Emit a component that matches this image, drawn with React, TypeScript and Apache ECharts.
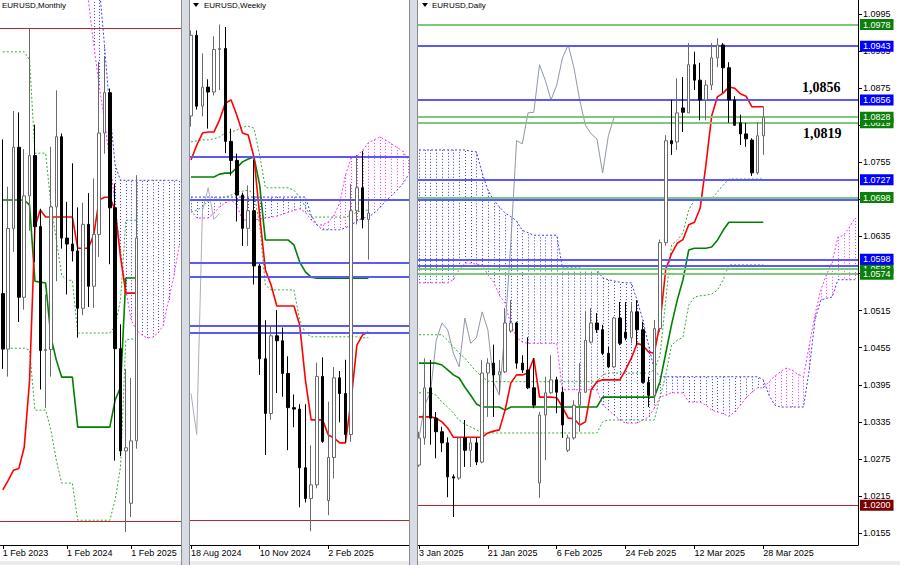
import React, { useEffect, useRef } from "react";
import * as echarts from "echarts";

const FONT = '"Liberation Sans", Arial, sans-serif';
const BULL_BORDER = "#6a6a6a";
const RED = "#ff0000";
const KIJUN = "#008000";
const DOT_GREEN = "#33aa33";
const SPAN_A = "#ff33ff";
const SPAN_B = "#3a3aff";
const CHIKOU = "#8e98a8";
const LEVEL_BLUE = "#5a5af5";
const LEVEL_GREEN = "#7cc87c";
const LEVEL_RED = "#b02a2a";

// ---------------- Monthly (index 0 = Feb 2023) ----------------
const monthlyCount = 34;
const monthlyTickIndex = [0, 12, 24];
const monthlyTickLabels = ["1 Feb 2023", "1 Feb 2024", "1 Feb 2025"];
// [open, close, low, high]
const monthlyOHLC = [
  [1.0697, 1.0576, 1.0533, 1.1033], [1.0576, 1.0839, 1.0516, 1.093], [1.0839, 1.1016, 1.0788, 1.1095],
  [1.1016, 1.0689, 1.0635, 1.1092], [1.0689, 1.091, 1.0662, 1.1012], [1.091, 1.0998, 1.0834, 1.1276],
  [1.0998, 1.0843, 1.0766, 1.1065], [1.0843, 1.0573, 1.0488, 1.0882], [1.0573, 1.0575, 1.0448, 1.0695],
  [1.0575, 1.0886, 1.0516, 1.1017], [1.0886, 1.1039, 1.0724, 1.114], [1.1039, 1.0818, 1.0795, 1.1046],
  [1.0818, 1.0805, 1.0695, 1.0897], [1.0805, 1.079, 1.0767, 1.0981], [1.079, 1.0665, 1.0601, 1.0885],
  [1.0665, 1.0848, 1.065, 1.0895], [1.0848, 1.0713, 1.0668, 1.0916], [1.0713, 1.0826, 1.0666, 1.0948],
  [1.0826, 1.1047, 1.0777, 1.1202], [1.1047, 1.1135, 1.1002, 1.1214], [1.1135, 1.0884, 1.0761, 1.1144],
  [1.0884, 1.0577, 1.0333, 1.0937], [1.0577, 1.0354, 1.0343, 1.063], [1.0354, 1.0361, 1.0177, 1.0533],
  [1.024, 1.0376, 1.021, 1.0513], [1.0376, 1.0818, 1.0359, 1.0955],
];
const monthlyTenkan = [1.0269, 1.029, 1.0312, 1.0316, 1.0362, 1.0508, 1.0842, 1.0879, 1.0864, 1.0864, 1.0864, 1.0864, 1.0864, 1.0864, 1.0796, 1.0796, 1.0796, 1.0825, 1.0901, 1.0907, 1.0907, 1.0879, 1.0777, 1.0698, 1.0698, 1.0698];
const monthlyKijun = [1.0901, 1.0901, 1.0901, 1.0901, 1.0901, 1.089, 1.0724, 1.0722, 1.072, 1.0602, 1.0552, 1.0515, 1.0515, 1.0515, 1.0406, 1.0406, 1.0406, 1.0406, 1.0406, 1.0406, 1.0406, 1.0465, 1.0493, 1.0731, 1.0731, 1.0731];
const monthlyDot1 = [1.1224, 1.1224, 1.1224, 1.1224, 1.1224, 1.1206, 1.1003, 1.1003, 1.1003, 1.089, 1.0814, 1.0737, 1.0726, 1.0726, 1.0611, 1.0611, 1.0611, 1.0611, 1.0611, 1.0611, 1.0611, 1.0626, 1.0683, 1.0857, 1.0857, 1.0857];
const monthlyDot2 = [1.0578, 1.0578, 1.0578, 1.0578, 1.0578, 1.0574, 1.0443, 1.0443, 1.0443, 1.0399, 1.0334, 1.0284, 1.0284, 1.0284, 1.0203, 1.0203, 1.0203, 1.0203, 1.0203, 1.0203, 1.0203, 1.0247, 1.0319, 1.0596, 1.0598, 1.0598];
const monthlySpanA = [null, null, null, null, null, null, null, null, null, null, null, null, null, null, 1.15, 1.1424, 1.1337, 1.1239, 1.1152, 1.1075, 1.0988, 1.089, 1.0792, 1.0705, 1.0639, 1.0617, 1.0607, 1.06, 1.0602, 1.0611, 1.0628, 1.0683, 1.0737, 1.0803];
const monthlySpanB = [null, null, null, null, null, null, null, null, null, null, null, null, null, null, 1.16, 1.155, 1.15, 1.1468, 1.137, 1.1239, 1.1097, 1.0977, 1.0944, 1.0944, 1.0944, 1.0944, 1.0944, 1.0944, 1.0944, 1.0944, 1.0944, 1.0944, 1.0944, 1.0944];
const monthlyRedLevels = [1.1276, 1.02];

// ---------------- Weekly (index 0 = 18 Aug 2024) ----------------
const weeklyCount = 39;
const weeklyTickIndex = [0, 12, 24];
const weeklyTickLabels = ["18 Aug 2024", "10 Nov 2024", "2 Feb 2025"];
const weeklyOHLC = [
  [1.1027, 1.1192, 1.1005, 1.1202], [1.1192, 1.1047, 1.104, 1.1202], [1.1047, 1.1086, 1.1026, 1.1155],
  [1.1086, 1.1076, 1.1001, 1.1102], [1.1076, 1.1163, 1.1069, 1.119], [1.1163, 1.1165, 1.108, 1.1214],
  [1.1165, 1.0975, 1.0951, 1.1209], [1.0975, 1.0936, 1.0905, 1.1001], [1.0936, 1.0865, 1.0811, 1.095],
  [1.0865, 1.0797, 1.0761, 1.087], [1.0797, 1.0833, 1.0761, 1.0885], [1.0833, 1.072, 1.0682, 1.0937],
  [1.072, 1.053, 1.0497, 1.0724], [1.053, 1.0418, 1.0333, 1.0609], [1.0418, 1.0577, 1.0405, 1.0597],
  [1.0577, 1.0567, 1.046, 1.063], [1.0567, 1.05, 1.0452, 1.0594], [1.05, 1.043, 1.0343, 1.0535],
  [1.043, 1.0427, 1.039, 1.0457], [1.0427, 1.0307, 1.0226, 1.0437], [1.0307, 1.0244, 1.0236, 1.0437],
  [1.0244, 1.0272, 1.0177, 1.0353], [1.0272, 1.0494, 1.0265, 1.0522], [1.0494, 1.0361, 1.0358, 1.0533],
  [1.024, 1.0328, 1.021, 1.0442], [1.0328, 1.0491, 1.0285, 1.0513], [1.0491, 1.0459, 1.04, 1.0505],
  [1.0459, 1.0375, 1.0359, 1.0528], [1.0375, 1.0833, 1.036, 1.0888], [1.0833, 1.088, 1.0805, 1.0947],
  [1.088, 1.0815, 1.0797, 1.0955], [1.0815, 1.0828, 1.0733, 1.0858],
];
const weeklyTenkan = [1.0937, 1.0967, 1.0992, 1.0994, 1.0994, 1.1019, 1.1053, 1.106, 1.1029, 1.0992, 1.0988, 1.0943, 1.0824, 1.0712, 1.0681, 1.0638, 1.0638, 1.0638, 1.0638, 1.0599, 1.0487, 1.0405, 1.0405, 1.0405, 1.0374, 1.0368, 1.0358, 1.0358, 1.0446, 1.0558, 1.0579, 1.0585];
const weeklyKijun = [1.0902, 1.0902, 1.0902, 1.0902, 1.0902, 1.0908, 1.091, 1.091, 1.0921, 1.0933, 1.0939, 1.0943, 1.0886, 1.0773, 1.0773, 1.0773, 1.0773, 1.0773, 1.0763, 1.0728, 1.0708, 1.0697, 1.0695, 1.0695, 1.0695, 1.0695, 1.0695, 1.0695, 1.0695, 1.0695, 1.0695, 1.0695];
const weeklyDot1 = [1.0974, 1.0976, 1.0978, 1.0978, 1.098, 1.0984, 1.0992, 1.0994, 1.0998, 1.1004, 1.1006, 1.1002, 1.0947, 1.088, 1.088, 1.088, 1.088, 1.088, 1.0875, 1.0861, 1.0841, 1.082, 1.082, 1.082, 1.082, 1.082, 1.082, 1.082, 1.0824, 1.083, 1.0834, 1.0834];
const weeklyDot2 = [1.083, 1.0834, 1.0841, 1.0853, 1.0855, 1.0859, 1.0861, 1.0865, 1.0871, 1.0873, 1.0875, 1.0869, 1.0804, 1.0681, 1.0671, 1.0671, 1.0671, 1.0671, 1.0671, 1.0609, 1.0583, 1.0575, 1.0575, 1.0575, 1.0575, 1.0575, 1.0575, 1.0575, 1.0575, 1.0575, 1.0573, 1.0573];
const weeklyChikou = [1.0459, 1.0375, 1.0833, 1.088, 1.0815, 1.0828];
const weeklySpanA = [1.0834, 1.0818, 1.0818, 1.0818, 1.0828, 1.0841, 1.0849, 1.0855, 1.0845, 1.0814, 1.0814, 1.0814, 1.0816, 1.0818, 1.082, 1.0822, 1.0826, 1.083, 1.0834, 1.0837, 1.083, 1.0814, 1.0804, 1.0804, 1.081, 1.0824, 1.0849, 1.0906, 1.0941, 1.0945, 1.0957, 1.0972, 1.0978, 1.0984, 1.0978, 1.097, 1.0963, 1.0955, 1.0937];
const weeklySpanB = [1.0861, 1.0861, 1.0861, 1.0861, 1.0861, 1.0861, 1.0861, 1.0861, 1.0861, 1.0861, 1.0861, 1.0861, 1.0861, 1.0861, 1.0861, 1.0861, 1.0861, 1.0861, 1.0861, 1.0861, 1.0861, 1.0824, 1.0804, 1.0794, 1.0794, 1.0794, 1.0794, 1.0798, 1.0804, 1.0812, 1.0818, 1.082, 1.0828, 1.0839, 1.0853, 1.0863, 1.0875, 1.0888, 1.0906];
const weeklyBlueLevels = [1.0943, 1.0856, 1.0727, 1.0698, 1.0598, 1.0583];
const weeklyRedLevels = [1.02];

// ---------------- Daily (index 0 = 3 Jan 2025) ----------------
const dailyCount = 77;
const dailyTickIndex = [0, 12, 24, 36, 48, 60];
const dailyTickLabels = ["3 Jan 2025", "21 Jan 2025", "6 Feb 2025", "24 Feb 2025", "12 Mar 2025", "28 Mar 2025"];
const dailyPriceTicks = [1.0155, 1.0215, 1.0275, 1.0335, 1.0395, 1.0455, 1.0515, 1.0575, 1.0635, 1.0695, 1.0755, 1.0815, 1.0875, 1.0935, 1.0995];
const dailyOHLC = [
  [1.0265, 1.0309, 1.0262, 1.0319], [1.0309, 1.039, 1.0298, 1.0438], [1.039, 1.0341, 1.0298, 1.0435],
  [1.0341, 1.0319, 1.0276, 1.0351], [1.0319, 1.0301, 1.0286, 1.0327], [1.0301, 1.0246, 1.0213, 1.031],
  [1.0246, 1.0244, 1.0181, 1.025], [1.0244, 1.0309, 1.0241, 1.031], [1.0309, 1.0289, 1.0262, 1.0338],
  [1.0289, 1.0301, 1.0262, 1.031], [1.0301, 1.027, 1.0265, 1.031], [1.027, 1.0414, 1.0268, 1.0435],
  [1.0414, 1.043, 1.0343, 1.0438], [1.043, 1.0411, 1.0343, 1.046], [1.0411, 1.0416, 1.0382, 1.0435],
  [1.0416, 1.0495, 1.0414, 1.0519], [1.0482, 1.0495, 1.0479, 1.0532], [1.0495, 1.043, 1.0421, 1.0497],
  [1.043, 1.0419, 1.0414, 1.0443], [1.0419, 1.039, 1.0388, 1.0472], [1.039, 1.0362, 1.0357, 1.0438],
  [1.0236, 1.0346, 1.0212, 1.0351], [1.0346, 1.0382, 1.0273, 1.0408], [1.0382, 1.0403, 1.038, 1.0443],
  [1.0403, 1.0383, 1.0349, 1.0408], [1.0383, 1.033, 1.0309, 1.0391], [1.0289, 1.0309, 1.0286, 1.0314],
  [1.0309, 1.0362, 1.0306, 1.037], [1.0362, 1.0383, 1.0319, 1.043], [1.0383, 1.0467, 1.0382, 1.0513],
  [1.0464, 1.0495, 1.0462, 1.0519], [1.0495, 1.0484, 1.0479, 1.0511], [1.0484, 1.0446, 1.0443, 1.0492],
  [1.0446, 1.0424, 1.0422, 1.0456], [1.0424, 1.0503, 1.0422, 1.0505], [1.0503, 1.0462, 1.0459, 1.0529],
  [1.048, 1.0471, 1.0467, 1.0529], [1.0471, 1.0513, 1.0462, 1.0527], [1.0513, 1.0484, 1.0459, 1.0532],
  [1.0484, 1.0399, 1.0397, 1.0497], [1.0399, 1.0378, 1.0359, 1.0408], [1.0378, 1.0486, 1.0365, 1.05],
  [1.0486, 1.0625, 1.048, 1.063], [1.0625, 1.079, 1.062, 1.0799], [1.079, 1.0785, 1.0767, 1.0856],
  [1.0788, 1.0835, 1.0775, 1.0891], [1.0843, 1.0836, 1.0804, 1.0893], [1.0835, 1.0913, 1.0835, 1.0948],
  [1.0913, 1.0888, 1.0872, 1.0934], [1.0888, 1.0856, 1.0823, 1.0916], [1.0856, 1.088, 1.0823, 1.0888],
  [1.088, 1.0924, 1.0872, 1.0948], [1.0924, 1.0945, 1.0909, 1.0956], [1.0945, 1.0908, 1.0867, 1.0948],
  [1.0908, 1.0856, 1.0819, 1.0917], [1.0856, 1.0815, 1.0814, 1.0862], [1.0819, 1.0801, 1.0783, 1.0832],
  [1.0801, 1.0793, 1.078, 1.0819], [1.0791, 1.0738, 1.0733, 1.0794], [1.0738, 1.0798, 1.0735, 1.082],
  [1.0798, 1.0828, 1.0767, 1.0845],
];
const dailyTenkan = [1.0343, 1.0343, 1.0343, 1.0341, 1.0335, 1.0325, 1.031, 1.031, 1.031, 1.031, 1.031, 1.031, 1.0317, 1.032, 1.0322, 1.0354, 1.0398, 1.0411, 1.0411, 1.0414, 1.0438, 1.0375, 1.0375, 1.0375, 1.0374, 1.0359, 1.0341, 1.034, 1.033, 1.0335, 1.0387, 1.04, 1.0403, 1.0403, 1.0403, 1.0403, 1.0419, 1.0438, 1.0462, 1.0459, 1.0448, 1.0446, 1.0495, 1.0582, 1.0607, 1.0624, 1.063, 1.0654, 1.0658, 1.0681, 1.0751, 1.083, 1.0861, 1.0867, 1.0877, 1.0875, 1.0866, 1.0862, 1.0845, 1.0845, 1.0845];
const dailyKijun = [1.043, 1.043, 1.043, 1.043, 1.0427, 1.0419, 1.0411, 1.0406, 1.0391, 1.0378, 1.0364, 1.0359, 1.0359, 1.0359, 1.0359, 1.0354, 1.0359, 1.0359, 1.0359, 1.0359, 1.0359, 1.0359, 1.0359, 1.0359, 1.0359, 1.0359, 1.0359, 1.0359, 1.0359, 1.0359, 1.0359, 1.0359, 1.0375, 1.0375, 1.0375, 1.0375, 1.0375, 1.0375, 1.0375, 1.0375, 1.0375, 1.0375, 1.04, 1.0446, 1.0492, 1.0532, 1.0565, 1.0613, 1.0616, 1.0616, 1.0616, 1.0618, 1.0629, 1.0645, 1.0658, 1.0658, 1.0658, 1.0658, 1.0658, 1.0658, 1.0658];
const dailyDot1 = [1.0476, 1.0476, 1.0476, 1.0476, 1.0476, 1.0467, 1.0456, 1.0446, 1.0438, 1.0427, 1.0416, 1.0408, 1.0401, 1.04, 1.04, 1.04, 1.04, 1.04, 1.04, 1.04, 1.04, 1.04, 1.04, 1.04, 1.04, 1.04, 1.04, 1.04, 1.04, 1.04, 1.04, 1.04, 1.0411, 1.0414, 1.0414, 1.0414, 1.0414, 1.0414, 1.0414, 1.0414, 1.0414, 1.0419, 1.0443, 1.0532, 1.0621, 1.0629, 1.0641, 1.0678, 1.0694, 1.0696, 1.0696, 1.0696, 1.0707, 1.0718, 1.0728, 1.0728, 1.0728, 1.0728, 1.0728, 1.0728, 1.0728];
const dailyDot2 = [1.0382, 1.0382, 1.0382, 1.0378, 1.0367, 1.0359, 1.0349, 1.0338, 1.0331, 1.0327, 1.0322, 1.0317, 1.0317, 1.0317, 1.0317, 1.0317, 1.0317, 1.0317, 1.0317, 1.0317, 1.0317, 1.0317, 1.0317, 1.0317, 1.0317, 1.0317, 1.0317, 1.0317, 1.0317, 1.0317, 1.0317, 1.0317, 1.0335, 1.0338, 1.0338, 1.0338, 1.0338, 1.0338, 1.0338, 1.0338, 1.0338, 1.0338, 1.0375, 1.0411, 1.0459, 1.0467, 1.0472, 1.0524, 1.0537, 1.0539, 1.054, 1.0542, 1.0548, 1.0565, 1.0589, 1.0589, 1.0589, 1.0589, 1.0589, 1.0589, 1.0589];
const dailyChikou = [1.0309, 1.0362, 1.0383, 1.0467, 1.0495, 1.0484, 1.0446, 1.0424, 1.0503, 1.0462, 1.0471, 1.0513, 1.0484, 1.0399, 1.0378, 1.0486, 1.0625, 1.079, 1.0785, 1.0835, 1.0836, 1.0913, 1.0888, 1.0856, 1.088, 1.0924, 1.0945, 1.0908, 1.0856, 1.0815, 1.0801, 1.0793, 1.0738, 1.0798, 1.0828];
const dailySpanA = [1.056, 1.056, 1.056, 1.056, 1.056, 1.056, 1.0565, 1.0581, 1.0592, 1.0592, 1.059, 1.0589, 1.0573, 1.0561, 1.054, 1.0527, 1.0492, 1.0472, 1.0464, 1.0462, 1.0462, 1.0462, 1.0462, 1.0462, 1.0462, 1.0387, 1.0387, 1.0387, 1.0387, 1.0387, 1.0387, 1.0387, 1.0362, 1.0354, 1.0346, 1.0338, 1.0333, 1.0333, 1.0333, 1.0338, 1.0343, 1.0357, 1.0375, 1.0378, 1.0382, 1.0382, 1.0382, 1.0367, 1.0367, 1.0367, 1.0362, 1.0354, 1.0351, 1.0348, 1.0344, 1.0351, 1.0362, 1.0374, 1.0383, 1.039, 1.039, 1.04, 1.0409, 1.0416, 1.0422, 1.0419, 1.0412, 1.0408, 1.0459, 1.0508, 1.0548, 1.0573, 1.0594, 1.0634, 1.0637, 1.065, 1.0665];
const dailySpanB = [1.0775, 1.0775, 1.0775, 1.0775, 1.0775, 1.0775, 1.0775, 1.0775, 1.0775, 1.0773, 1.0772, 1.0738, 1.071, 1.0694, 1.0683, 1.0673, 1.0667, 1.066, 1.0645, 1.0641, 1.0637, 1.0637, 1.0637, 1.0637, 1.0637, 1.0584, 1.0584, 1.0584, 1.0584, 1.0582, 1.0582, 1.0581, 1.0568, 1.0565, 1.0563, 1.0561, 1.056, 1.056, 1.0532, 1.05, 1.0459, 1.0419, 1.0408, 1.0408, 1.0408, 1.0408, 1.0408, 1.0408, 1.0408, 1.0408, 1.0408, 1.0408, 1.0408, 1.0408, 1.0408, 1.0408, 1.0408, 1.0408, 1.0408, 1.0408, 1.0403, 1.0378, 1.0362, 1.0359, 1.0359, 1.0359, 1.0359, 1.0359, 1.0419, 1.05, 1.0532, 1.0535, 1.0537, 1.0565, 1.0565, 1.0565, 1.0565];
// level lines, in drawing order (later labels cover earlier ones)
const dailyLevelValues = [1.0978, 1.0943, 1.0856, 1.0819, 1.0828, 1.0727, 1.0695, 1.0698, 1.0587, 1.0583, 1.0598, 1.0574, 1.02];
const dailyLevelKinds = ["green", "blue", "blue", "green", "green", "blue", "blue", "green", "blue", "green", "blue", "green", "red"];
const dailyLevelLabelled = [true, true, true, true, true, true, false, true, false, true, true, true, true];
const dailyNotes = ["1,0856", "1,0819"];

const KIND_LINE: Record<string, string> = { green: LEVEL_GREEN, blue: LEVEL_BLUE, red: LEVEL_RED };
const KIND_BOX: Record<string, string> = { green: "#0a800a", blue: "#0000ff", red: "#7a0000" };

function cats(n: number) {
  return Array.from({ length: n }, (_, i) => String(i));
}

function xAxisFor(grid: number, n: number, tickIdx: number[], labels: string[]) {
  const show = (i: number) => tickIdx.indexOf(i) >= 0;
  return {
    type: "category",
    gridIndex: grid,
    data: cats(n),
    boundaryGap: true,
    axisLine: { show: true, lineStyle: { color: "#000", width: 1 } },
    axisTick: { show: true, alignWithLabel: true, length: 4, interval: (i: number) => show(i), lineStyle: { color: "#000" } },
    axisLabel: {
      interval: (i: number) => show(i),
      formatter: (_v: string, i: number) => labels[tickIdx.indexOf(i)] || "",
      align: "left",
      fontSize: 9,
      color: "#000",
      margin: 3,
      fontFamily: FONT,
    },
    splitLine: { show: false },
  };
}

function lineSeries(ax: number, data: (number | null)[], color: string, width: number, type: any, z = 3) {
  return {
    type: "line",
    xAxisIndex: ax,
    yAxisIndex: ax,
    data,
    symbol: "none",
    showSymbol: false,
    silent: true,
    connectNulls: false,
    clip: true,
    z,
    lineStyle: { color, width, type },
  };
}

function hatchSeries(ax: number, A: (number | null)[], B: (number | null)[]) {
  const data: number[][] = [];
  A.forEach((a, i) => {
    const b = B[i];
    if (a != null && b != null) data.push([i, a, b]);
  });
  return {
    type: "custom",
    xAxisIndex: ax,
    yAxisIndex: ax,
    silent: true,
    z: 1,
    data,
    encode: { x: 0, y: [1, 2] },
    renderItem: (params: any, api: any) => {
      const i = api.value(0);
      const a = api.value(1);
      const b = api.value(2);
      const p1 = api.coord([i, a]);
      const p2 = api.coord([i, b]);
      const cs = params.coordSys;
      if (p1[0] < cs.x || p1[0] > cs.x + cs.width) return null;
      const top = cs.y;
      const bot = cs.y + cs.height;
      const y1 = Math.max(top, Math.min(bot, p1[1]));
      const y2 = Math.max(top, Math.min(bot, p2[1]));
      if (Math.abs(y1 - y2) < 0.5) return null;
      const x = Math.round(p1[0]) + 0.5;
      return {
        type: "line",
        shape: { x1: x, y1, x2: x, y2 },
        style: { stroke: a > b ? SPAN_A : SPAN_B, lineWidth: 1, lineDash: [1, 2] },
      };
    },
  };
}

function candleSeries(ax: number, ohlc: number[][], markData: any[]) {
  return {
    type: "candlestick",
    xAxisIndex: ax,
    yAxisIndex: ax,
    data: ohlc,
    barWidth: 3,
    silent: true,
    z: 5,
    itemStyle: { color: "#ffffff", color0: "#000000", borderColor: BULL_BORDER, borderColor0: "#000000", borderWidth: 1 },
    markLine: {
      silent: true,
      symbol: ["none", "none"],
      precision: 4,
      animation: false,
      label: { show: false },
      data: markData,
    },
  };
}

function plainLevels(values: number[], color: string, width: number) {
  return values.map((v) => ({ yAxis: v, lineStyle: { color, width, type: "solid" }, label: { show: false } }));
}

function buildOption() {
  const dailyMarks = dailyLevelValues.map((v, i) => {
    const kind = dailyLevelKinds[i];
    return {
      yAxis: v,
      lineStyle: { color: KIND_LINE[kind], width: kind === "red" ? 1 : 2, type: "solid" },
      label: dailyLevelLabelled[i]
        ? {
            show: true,
            position: "end",
            distance: 2,
            formatter: () => v.toFixed(4),
            color: "#ffffff",
            backgroundColor: KIND_BOX[kind],
            padding: [1, 3, 1, 3],
            fontSize: 9,
            lineHeight: 9,
            fontFamily: FONT,
          }
        : { show: false },
    };
  });

  const series: any[] = [
    // monthly
    hatchSeries(0, monthlySpanA, monthlySpanB),
    lineSeries(0, monthlySpanA, SPAN_A, 1, [2, 2], 2),
    lineSeries(0, monthlySpanB, SPAN_B, 1, [2, 2], 2),
    lineSeries(0, monthlyDot1, DOT_GREEN, 1, [2, 2]),
    lineSeries(0, monthlyDot2, DOT_GREEN, 1, [2, 2]),
    lineSeries(0, monthlyKijun, KIJUN, 1.6, "solid"),
    lineSeries(0, monthlyTenkan, RED, 1.6, "solid"),
    candleSeries(0, monthlyOHLC, plainLevels(monthlyRedLevels, LEVEL_RED, 1)),
    // weekly
    hatchSeries(1, weeklySpanA, weeklySpanB),
    lineSeries(1, weeklySpanA, SPAN_A, 1, [2, 2], 2),
    lineSeries(1, weeklySpanB, SPAN_B, 1, [2, 2], 2),
    lineSeries(1, weeklyChikou, "#aab0ba", 1, "solid"),
    lineSeries(1, weeklyDot1, DOT_GREEN, 1, [2, 2]),
    lineSeries(1, weeklyDot2, DOT_GREEN, 1, [2, 2]),
    lineSeries(1, weeklyKijun, KIJUN, 1.6, "solid"),
    lineSeries(1, weeklyTenkan, RED, 1.6, "solid"),
    candleSeries(1, weeklyOHLC, [
      ...plainLevels(weeklyBlueLevels, LEVEL_BLUE, 2),
      ...plainLevels(weeklyRedLevels, LEVEL_RED, 1),
    ]),
    // daily
    hatchSeries(2, dailySpanA, dailySpanB),
    lineSeries(2, dailySpanA, SPAN_A, 1, [2, 2], 2),
    lineSeries(2, dailySpanB, SPAN_B, 1, [2, 2], 2),
    lineSeries(2, dailyChikou, CHIKOU, 1, "solid"),
    lineSeries(2, dailyDot1, DOT_GREEN, 1, [2, 2]),
    lineSeries(2, dailyDot2, DOT_GREEN, 1, [2, 2]),
    lineSeries(2, dailyKijun, KIJUN, 1.6, "solid"),
    lineSeries(2, dailyTenkan, RED, 1.6, "solid"),
    candleSeries(2, dailyOHLC, dailyMarks),
  ];

  const sepColor = "#d6dbe4";
  const sepLine = "#8c8c8c";
  const graphic: any[] = [
    { type: "rect", shape: { x: 181, y: 0, width: 9, height: 565 }, style: { fill: sepColor }, z: 100 },
    { type: "line", shape: { x1: 181.5, y1: 0, x2: 181.5, y2: 565 }, style: { stroke: sepLine, lineWidth: 1 }, z: 101 },
    { type: "line", shape: { x1: 189.5, y1: 0, x2: 189.5, y2: 565 }, style: { stroke: sepLine, lineWidth: 1 }, z: 101 },
    { type: "rect", shape: { x: 409, y: 0, width: 9, height: 565 }, style: { fill: sepColor }, z: 100 },
    { type: "line", shape: { x1: 409.5, y1: 0, x2: 409.5, y2: 565 }, style: { stroke: sepLine, lineWidth: 1 }, z: 101 },
    { type: "line", shape: { x1: 417.5, y1: 0, x2: 417.5, y2: 565 }, style: { stroke: sepLine, lineWidth: 1 }, z: 101 },
    { type: "rect", shape: { x: 0, y: 561, width: 900, height: 4 }, style: { fill: "#ececec" }, z: 99 },
    { type: "text", x: 2, y: 5, style: { text: "EURUSD,Monthly", font: '8px "Liberation Sans"', fill: "#000", verticalAlign: "middle" }, z: 102 },
    { type: "polygon", shape: { points: [[193, 3], [199, 3], [196, 7]] }, style: { fill: "#000" }, z: 102 },
    { type: "text", x: 204, y: 5, style: { text: "EURUSD,Weekly", font: '8px "Liberation Sans"', fill: "#000", verticalAlign: "middle" }, z: 102 },
    { type: "polygon", shape: { points: [[422, 3], [428, 3], [425, 7]] }, style: { fill: "#000" }, z: 102 },
    { type: "text", x: 432, y: 5, style: { text: "EURUSD,Daily", font: '8px "Liberation Sans"', fill: "#000", verticalAlign: "middle" }, z: 102 },
    { type: "text", x: 802, y: 87, style: { text: dailyNotes[0], font: 'bold 14px "Liberation Serif"', fill: "#000", verticalAlign: "middle" }, z: 102 },
    { type: "text", x: 803, y: 133, style: { text: dailyNotes[1], font: 'bold 14px "Liberation Serif"', fill: "#000", verticalAlign: "middle" }, z: 102 },
  ];

  return {
    animation: false,
    backgroundColor: "#ffffff",
    grid: [
      { left: -10.8, top: 0, width: 192.8, height: 545 },
      { left: 188.14, top: 0, width: 223.1, height: 545 },
      { left: 416.14, top: 0, width: 441.86, height: 545 },
    ],
    xAxis: [
      xAxisFor(0, monthlyCount, monthlyTickIndex, monthlyTickLabels),
      xAxisFor(1, weeklyCount, weeklyTickIndex, weeklyTickLabels),
      xAxisFor(2, dailyCount, dailyTickIndex, dailyTickLabels),
    ],
    yAxis: [
      { type: "value", gridIndex: 0, min: 1.0149, max: 1.1337, show: false, splitLine: { show: false } },
      { type: "value", gridIndex: 1, min: 1.01489, max: 1.12643, show: false, splitLine: { show: false } },
      {
        type: "value",
        gridIndex: 2,
        position: "right",
        min: 1.01357,
        max: 1.10177,
        axisLine: { show: true, lineStyle: { color: "#000", width: 1 } },
        axisTick: { show: true, length: 4, customValues: dailyPriceTicks, lineStyle: { color: "#000" } },
        axisLabel: {
          show: true,
          customValues: dailyPriceTicks,
          formatter: (v: number) => v.toFixed(4),
          fontSize: 9,
          color: "#000",
          margin: 5,
          fontFamily: FONT,
        },
        splitLine: { show: false },
      },
    ],
    series,
    graphic,
  };
}

export default function App() {
  const ref = useRef<HTMLDivElement>(null);
  useEffect(() => {
    if (!ref.current) return;
    const chart = echarts.init(ref.current, null, { renderer: "svg" });
    chart.setOption(buildOption() as any);
    return () => chart.dispose();
  }, []);
  return (
    <div
      ref={ref}
      style={{ position: "fixed", left: 0, top: 0, width: 900, height: 565, background: "#fff" }}
    />
  );
}
